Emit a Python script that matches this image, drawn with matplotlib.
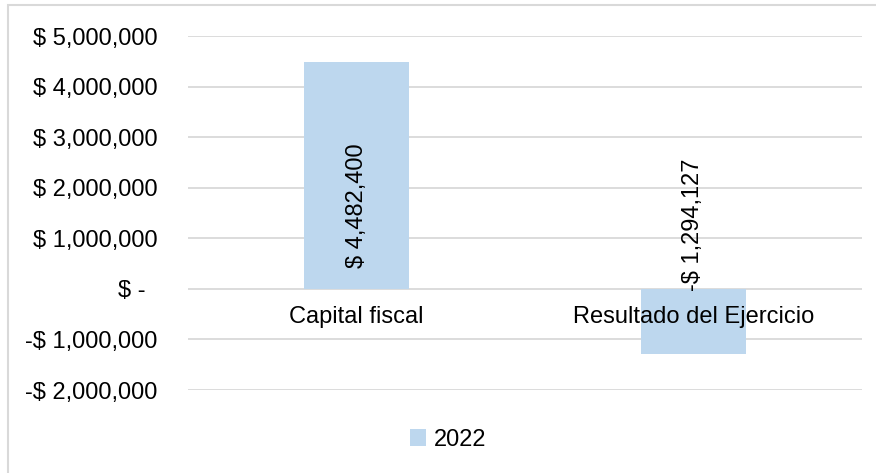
import matplotlib
matplotlib.use("Agg")
import matplotlib.pyplot as plt
from matplotlib.patches import Rectangle

categories = ["Capital fiscal", "Resultado del Ejercicio"]
values = [4482400, -1294127]
series_name = "2022"
yticks = [-2000000, -1000000, 0, 1000000, 2000000, 3000000, 4000000, 5000000]

bar_color = "#BDD7EE"
grid_color = "#D9D9D9"
fs = 17

plt.rcParams["font.family"] = ["Liberation Sans", "DejaVu Sans"]

def money(v):
    if v == 0:
        return "$ -\u2002"
    s = f"$ {abs(v):,.0f}"
    return "-" + s if v < 0 else s

fig = plt.figure(figsize=(8.76, 4.73), dpi=100)
ax = fig.add_axes([188/876, 1-390/473, (862-188)/876, (390-36)/473])

# outer chart border (only left/top visible in the reference)
fig.patches.append(Rectangle((8/876, -0.1), 1.2, 1-5/473+0.1, transform=fig.transFigure,
                             fill=False, edgecolor="#D9D9D9", lw=1.5))

x = list(range(len(categories)))
ax.bar(x, values, width=0.31, color=bar_color, label=series_name, zorder=2)

ax.set_ylim(-2000000, 5000000)
ax.set_xlim(-0.5, 1.5)
ax.set_yticks(yticks)
ax.set_yticklabels([money(v) for v in yticks], fontsize=fs)
ax.tick_params(axis="y", length=0, pad=22)
ax.tick_params(axis="x", length=0, labelbottom=False)
ax.grid(axis="y", color=grid_color, lw=1.3, zorder=0)
for s in ax.spines.values():
    s.set_visible(False)

# category labels sit just under the zero line
for xi, c in zip(x, categories):
    ax.annotate(c, (xi, 0), xytext=(0, -28*0.72), textcoords="offset points",
                ha="center", va="center", fontsize=fs)

# data labels, rotated
offsets = [21, -2]
for xi, v, off in zip(x, values, offsets):
    ax.annotate(money(v), (xi, 0), xytext=(0, off*0.72), textcoords="offset points",
                ha="center", va="bottom", rotation=90, fontsize=fs)

fig.legend(loc="center", bbox_to_anchor=(448/876, 1-440/473), frameon=False,
           fontsize=fs, handlelength=0.7, handleheight=0.7, handletextpad=0.3)

fig.savefig("out.png", dpi=100)
